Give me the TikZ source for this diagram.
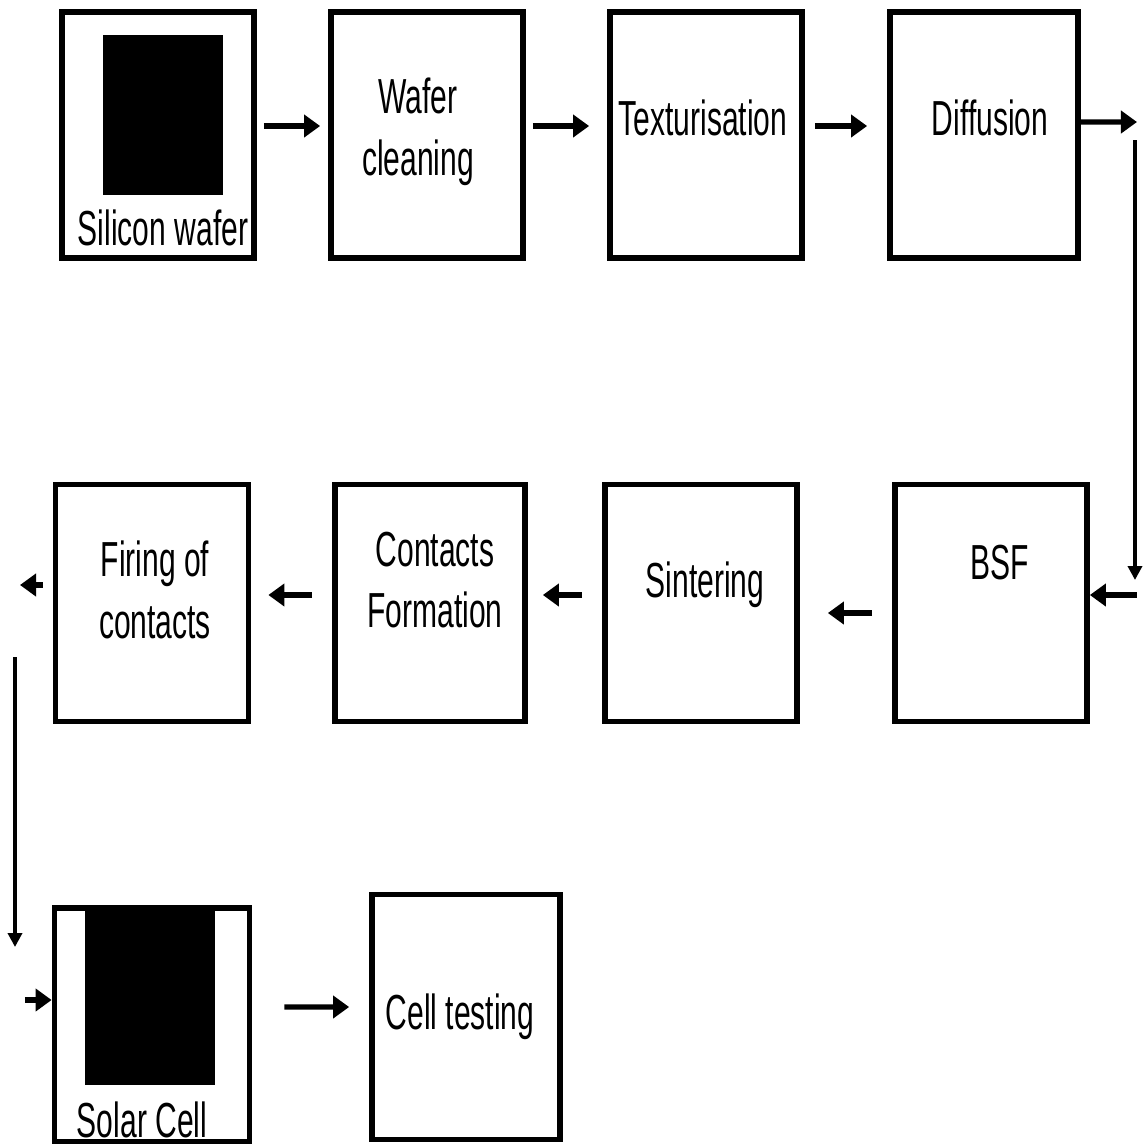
\documentclass[tikz,border=0pt]{standalone}
\usepackage{fontspec}
\setmainfont[FakeStretch=0.61]{Liberation Sans}
\usetikzlibrary{arrows.meta,positioning}
\tikzset{
  stage/.style={draw, line width=1.6pt, minimum width=1.92cm, minimum height=2.42cm, inner sep=0pt},
  txt/.style={align=center, font=\fontsize{14}{17.5}\selectfont, inner sep=0pt},
  flow/.style={line width=1.5pt, -{Triangle[length=0.16cm,width=0.22cm]}},
  drop/.style={line width=1pt, -{Triangle[length=0.14cm,width=0.14cm]}},
}
\begin{document}
\begin{tikzpicture}[x=0.01cm,y=-0.01cm]
\useasboundingbox (0,0) rectangle (1144,1144);
% first row
\node[stage, minimum height=2.46cm] (sw) at (158,135) {};
\fill (103,35) rectangle (223,195);
\node[txt] (swt) at (163,228) {Silicon wafer};
\node[stage, minimum height=2.46cm] (wc) at (427,135) {};
\node[txt] (wct) at (418,132) {Wafer\\cleaning};
\node[stage, minimum height=2.46cm] (tex) at (706,135) {};
\node[txt] (text) at (703,118) {Texturisation};
\node[stage, minimum height=2.46cm, minimum width=1.88cm] (dif) at (984,135) {};
\node[txt] (dift) at (990,118) {Diffusion};
% second row
\node[stage, minimum height=2.37cm] (bsf) at (991,603) {};
\node[txt] (bsft) at (1000,563) {BSF};
\node[stage, minimum height=2.37cm] (sin) at (701,603) {};
\node[txt] (sint) at (705,585) {Sintering};
\node[stage, minimum height=2.37cm, minimum width=1.90cm] (con) at (430,603) {};
\node[txt] (cont) at (435,580) {Contacts\\Formation};
\node[stage, minimum height=2.37cm, minimum width=1.93cm] (fir) at (152,603) {};
\node[txt] (firt) at (155,590) {Firing of\\contacts};
% third row
\node[stage, minimum height=2.34cm, minimum width=1.95cm] (sc) at (152,1025) {};
\fill (85,908) rectangle (215,1085);
\node[txt] (sct) at (142,1120) {Solar Cell};
\node[stage, minimum height=2.45cm, minimum width=1.88cm] (ct) at (466,1017) {};
\node[txt] (ctt) at (460,1017) {Cell testing};
% connectors
\draw[flow, shorten <=0.07cm, shorten >=0.08cm] ([yshift=0.09cm]sw.east) -- ([yshift=0.09cm]wc.west);
\draw[flow, shorten <=0.07cm, shorten >=0.18cm] ([yshift=0.09cm]wc.east) -- ([yshift=0.09cm]tex.west);
\draw[flow, shorten <=0.1cm, shorten >=0.2cm] ([yshift=0.09cm]tex.east) -- ([yshift=0.09cm]dif.west);
\coordinate (rout) at (1137,122);
\draw[flow] ([yshift=0.13cm]dif.east) -- (rout);
\coordinate (rtop) at (1135,140);
\coordinate (rbot) at (1135,580);
\draw[drop] (rtop) -- (rbot);
\coordinate (rin) at (1137,595);
\draw[flow] (rin) -- (bsf.east |- rin);
\draw[flow, shorten <=0.2cm, shorten >=0.28cm] ([yshift=-0.1cm]bsf.west) -- ([yshift=-0.1cm]sin.east);
\draw[flow, shorten <=0.2cm, shorten >=0.15cm] ([yshift=0.08cm]sin.west) -- ([yshift=0.08cm]con.east);
\draw[flow, shorten <=0.2cm, shorten >=0.17cm] ([yshift=0.08cm]con.west) -- ([yshift=0.08cm]fir.east);
\coordinate (lout) at (20,585);
\draw[flow, shorten <=0.1cm] (fir.west |- lout) -- (lout);
\coordinate (ltop) at (15,657);
\coordinate (lbot) at (15,947);
\draw[drop] (ltop) -- (lbot);
\coordinate (lin) at (25,1000);
\draw[flow] (lin) -- (sc.west |- lin);
\draw[flow, shorten <=0.32cm, shorten >=0.2cm] ([yshift=0.18cm]sc.east) -- ([yshift=0.1cm]ct.west);
\end{tikzpicture}
\end{document}
